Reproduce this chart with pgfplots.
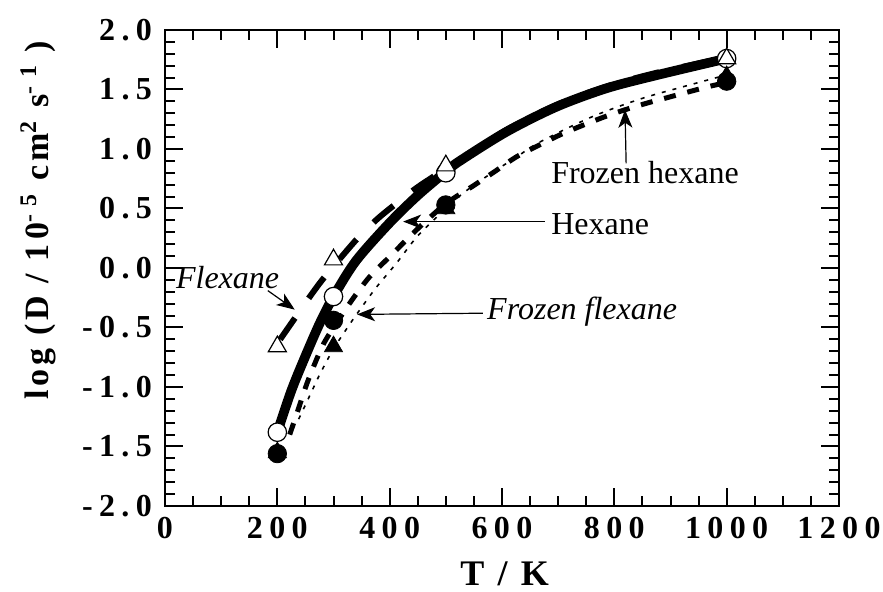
\documentclass[border=0pt]{standalone}
\usepackage{fontspec}
\setmainfont{Liberation Serif}
\newfontfamily\tickfont[LetterSpace=20]{Liberation Serif}
\newfontfamily\labfont[LetterSpace=12]{Liberation Serif}
\usepackage{pgfplots}
\usepackage{pgfplotstable}
\pgfplotsset{compat=1.18}
\usetikzlibrary{arrows.meta}

% measured points
\pgfplotstableread{
T    logD
200  -1.38
300  -0.24
500   0.80
1000  1.76
}\hexanepts
\pgfplotstableread{
T    logD
200  -0.66
300   0.07
500   0.86
1000  1.76
}\flexanepts
\pgfplotstableread{
T    logD
200  -1.56
300  -0.44
500   0.53
1000  1.57
}\frozhexpts
\pgfplotstableread{
T    logD
200  -1.55
300  -0.66
500   0.50
1000  1.61
}\frozflexpts

% fitted curves
\pgfplotstableread{
T    logD
200  -1.38
225  -1.03
250  -0.74
275  -0.47
300  -0.24
340   0.06
400   0.38
450   0.61
500   0.81
525   0.90
608   1.145
697   1.355
786   1.51
875   1.62
1000  1.76
}\hexanefit
\pgfplotstableread{
T    logD
205  -0.60
230  -0.43
255  -0.26
280  -0.10
310   0.07
345   0.26
380   0.42
418   0.565
450   0.68
495   0.82
525   0.91
608   1.16
697   1.37
786   1.525
875   1.64
1000  1.77
}\flexanefit
\pgfplotstableread{
T    logD
222  -1.40
235  -1.22
252  -0.98
267  -0.80
282  -0.64
300  -0.50
335  -0.255
365  -0.07
400   0.095
450   0.33
500   0.54
552   0.70
590   0.82
626   0.935
665   1.03
703   1.118
739   1.19
780   1.266
816   1.325
857   1.384
893   1.43
964   1.52
992   1.55
}\frozhexfit
\pgfplotstableread{
T    logD
238  -1.27
258  -1.07
276  -0.89
300  -0.68
325  -0.50
341  -0.39
375  -0.17
412   0.04
450   0.27
500   0.50
531   0.63
579   0.79
625   0.93
668   1.06
760   1.27
846   1.42
920   1.52
990   1.61
}\frozflexfit

\begin{document}
\begin{tikzpicture}
\begin{axis}[
  name=main,
  scale only axis,
  width=337pt, height=238pt,
  xmin=0, xmax=1200, ymin=-2, ymax=2,
  xtick={0,200,...,1200},
  xticklabels={0,200,400,600,800,1000,1200},
  ytick={-2,-1.5,...,2},
  yticklabels={-2.0,-1.5,-1.0,-0.5,0.0,0.5,1.0,1.5,2.0},
  minor x tick num=3,
  minor y tick num=4,
  tick align=inside,
  major tick length=9pt,
  minor tick length=5pt,
  every tick/.style={black, line width=1pt},
  axis line style={line width=1.3pt},
  tick label style={font=\fontsize{16}{18}\selectfont\tickfont\bfseries},
  xticklabel style={yshift=-2pt},
  yticklabel style={xshift=-3pt},
  xlabel={T / K},
  xlabel style={font=\fontsize{18}{21}\selectfont\labfont\bfseries,
    at={(axis description cs:0.504,-0.142)}, anchor=center},
  ylabel={log (D / 10\textsuperscript{- 5} cm\textsuperscript{2} s\textsuperscript{- 1} )},
  ylabel style={font=\fontsize{17}{20}\selectfont\labfont\bfseries,
    at={(axis description cs:-0.188,0.60)}, anchor=center},
]
% curves
\addplot[black, line width=3pt, dash pattern=on 13pt off 12pt, smooth] table {\flexanefit};
\addplot[black, line width=0.8pt, dash pattern=on 2pt off 3.5pt, smooth] table {\frozflexfit};
\addplot[black, line width=2.5pt, dash pattern=on 6pt off 6pt, smooth] table {\frozhexfit};
\addplot[black, line width=4.8pt, smooth] table {\hexanefit};

% markers
\addplot[only marks, mark=*, mark size=4.6pt,
  mark options={fill=white, draw=black, line width=0.6pt}] table {\hexanepts};
\addplot[only marks, mark=triangle*, mark size=5.2pt,
  mark options={fill=white, draw=black, line width=0.6pt}] table {\flexanepts};
\addplot[only marks, mark=*, mark size=4.6pt,
  mark options={fill=black, draw=black}] table {\frozhexpts};
\addplot[only marks, mark=triangle*, mark size=5.2pt,
  mark options={fill=black, draw=black}] table {\frozflexpts};

% labels with arrows
\tikzset{lbl/.style={font=\fontsize{16}{18}\selectfont, anchor=west, inner sep=0pt},
         arr/.style={line width=0.6pt, -{Stealth[length=9pt,width=7pt,inset=2.5pt]}}}
\draw[arr] (axis cs:676,0.39) -- (axis cs:424,0.39);
\node[lbl] at (axis cs:687,0.37) {Hexane};
\draw[arr] (axis cs:821,0.88) -- (axis cs:819,1.33);
\node[lbl] at (axis cs:687,0.80) {Frozen hexane};
\draw[arr] (axis cs:566,-0.38) -- (axis cs:342,-0.39);
\node[lbl] at (axis cs:573,-0.37) {\itshape Frozen flexane};
\draw[arr] (axis cs:183,-0.19) -- (axis cs:231,-0.35);
\node[lbl] at (axis cs:19,-0.08) {\itshape Flexane};
\end{axis}
\pgfresetboundingbox
\path[use as bounding box] ([xshift=-82.5pt,yshift=-43pt]main.south west)
  rectangle ([xshift=22pt,yshift=15pt]main.north east);
\end{tikzpicture}
\end{document}
